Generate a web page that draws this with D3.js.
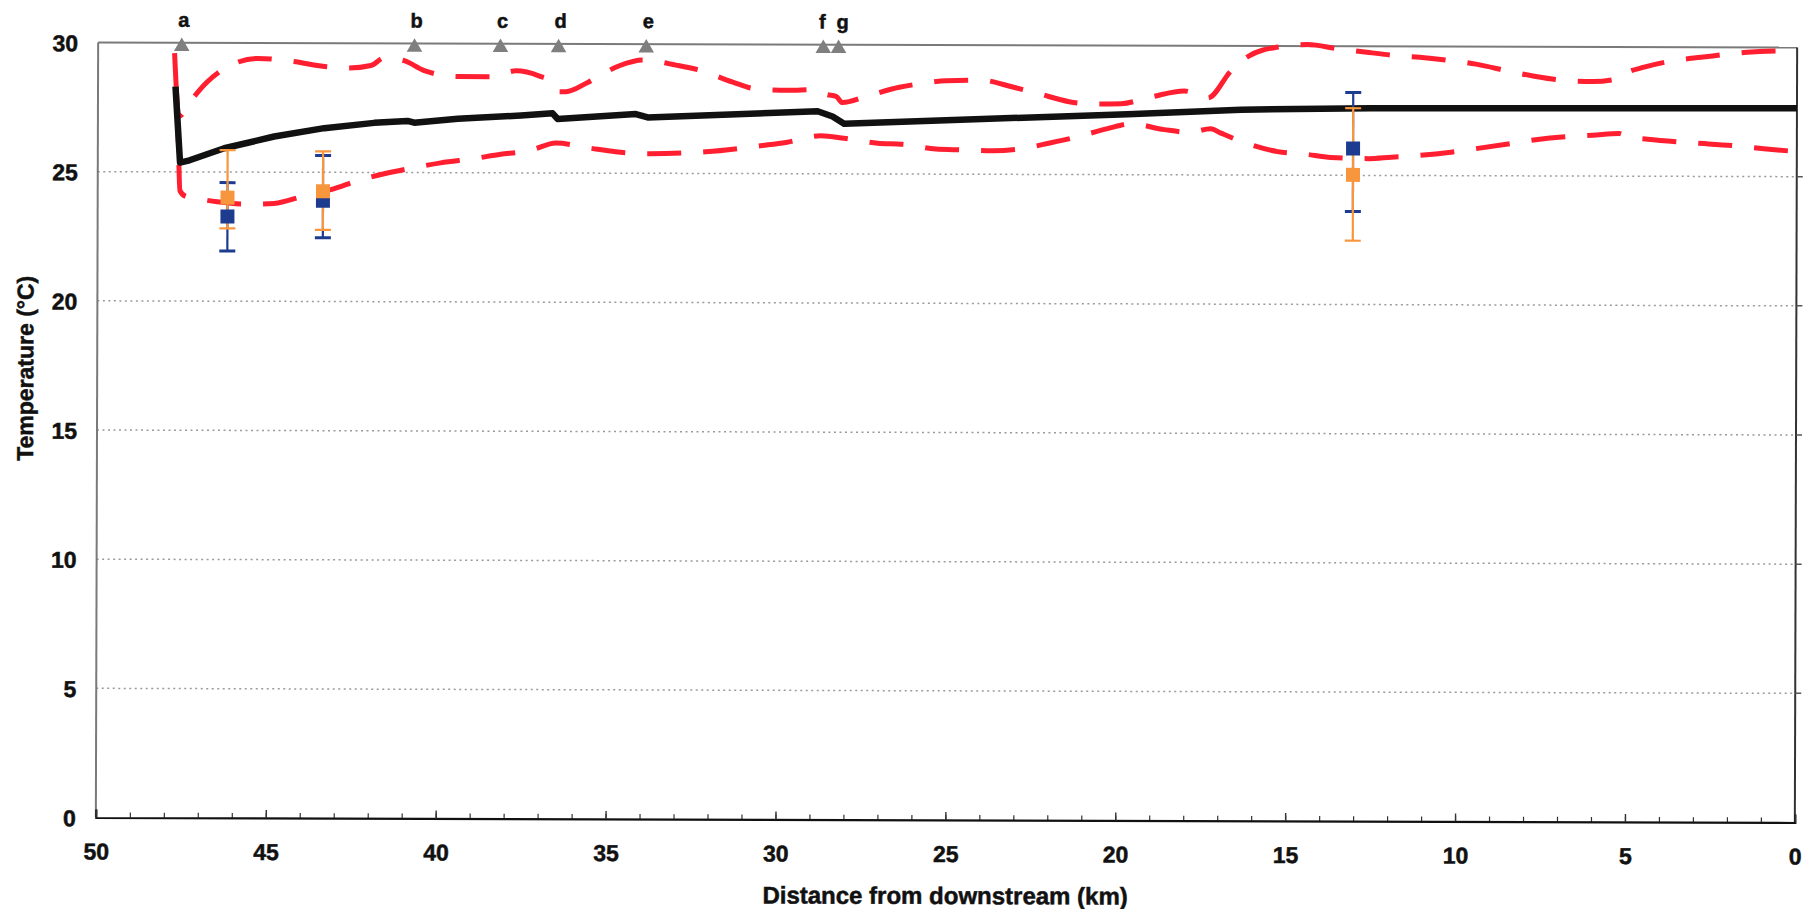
<!DOCTYPE html>
<html>
<head>
<meta charset="utf-8">
<script src="https://cdn.jsdelivr.net/npm/d3@7"></script>
<style>
  html, body { margin: 0; padding: 0; background: #fff; }
  svg { display: block; }
  text { font-family: "Liberation Sans", Arial, sans-serif; font-weight: bold; fill: #111; stroke: #111; stroke-width: 0.5px; }
</style>
</head>
<body>
<svg id="chart" width="1803" height="909"></svg>
<script>
// ---------------- DATA ----------------
// x tick labels (km from downstream) and y tick labels (°C)
const xTicksMajor = [50, 45, 40, 35, 30, 25, 20, 15, 10, 5, 0];
const xTicksMinor = d3.range(0, 51, 1);
const yTicks = [0, 5, 10, 15, 20, 25, 30];

// simulated mean temperature (km, °C)
const meanKm = [47.72, 47.58, 47.30, 46.28, 44.81, 43.34, 41.87, 40.89, 40.69, 39.41, 37.55, 36.62, 36.47, 34.17, 33.82, 28.82, 28.38, 28.04, 25.04, 19.70, 16.36, 12.54, 0];
const meanT  = [28.30, 25.36, 25.45, 25.92, 26.38, 26.71, 26.92, 27.00, 26.93, 27.09, 27.22, 27.31, 27.09, 27.29, 27.16, 27.42, 27.22, 26.94, 27.09, 27.34, 27.53, 27.60, 27.65];

// upper envelope (red dashed)
const upperKm = [47.70, 47.62, 47.21, 46.82, 45.99, 45.30, 44.32, 43.34, 42.65, 41.97, 41.57, 40.99, 40.40, 39.41, 38.43, 37.70, 37.01, 36.62, 36.42, 36.23, 35.59, 34.66, 33.97, 32.99, 32.30, 31.32, 30.64, 29.66, 28.97, 28.53, 28.28, 28.09, 27.40, 26.42, 25.73, 25.04, 24.01, 23.08, 22.35, 21.42, 20.68, 19.89, 19.01, 18.03, 17.34, 16.66, 16.17, 15.28, 14.40, 13.52, 12.60, 11.85, 11.11, 10.13, 9.45, 8.42, 7.73, 6.75, 6.01, 5.28, 5.08, 4.50, 3.47, 2.83, 1.80, 1.11, 0];
const upperT  = [28.30, 27.15, 27.85, 28.44, 29.20, 29.40, 29.30, 29.10, 29.04, 29.14, 29.44, 29.33, 28.95, 28.72, 28.72, 28.95, 28.75, 28.51, 28.15, 28.15, 28.51, 29.16, 29.38, 29.19, 29.00, 28.54, 28.28, 28.23, 28.26, 28.06, 28.00, 27.76, 28.00, 28.36, 28.51, 28.62, 28.64, 28.38, 28.14, 27.82, 27.73, 27.75, 28.01, 28.25, 27.98, 29.03, 29.58, 29.96, 30.06, 29.90, 29.76, 29.65, 29.58, 29.44, 29.32, 29.03, 28.86, 28.69, 28.66, 28.77, 28.96, 29.22, 29.51, 29.61, 29.77, 29.84, 29.87];

// lower envelope (red dashed)
const lowerKm = [47.75, 47.64, 47.58, 47.41, 47.26, 46.48, 45.59, 44.81, 43.93, 43.14, 42.26, 41.57, 40.69, 39.91, 38.93, 38.14, 37.55, 37.21, 36.52, 35.49, 34.76, 33.82, 32.11, 30.44, 29.75, 28.72, 28.04, 27.05, 26.32, 25.34, 24.60, 23.67, 22.94, 21.95, 21.27, 20.29, 19.60, 18.62, 17.88, 17.25, 16.95, 16.27, 15.28, 14.50, 13.71, 12.60, 11.94, 11.12, 10.18, 9.49, 8.38, 7.69, 6.71, 6.02, 5.23, 4.99, 4.39, 3.36, 2.73, 1.66, 0.97, 0];
const lowerT  = [29.60, 26.50, 24.27, 24.05, 24.01, 23.85, 23.76, 23.79, 24.08, 24.33, 24.72, 24.95, 25.19, 25.38, 25.55, 25.72, 25.81, 25.90, 26.16, 25.96, 25.83, 25.76, 25.84, 26.09, 26.21, 26.47, 26.38, 26.19, 26.15, 25.97, 25.94, 25.91, 25.97, 26.23, 26.43, 26.78, 26.97, 26.75, 26.65, 26.79, 26.62, 26.26, 25.91, 25.82, 25.69, 25.65, 25.71, 25.78, 25.91, 26.04, 26.26, 26.40, 26.53, 26.58, 26.65, 26.53, 26.43, 26.32, 26.27, 26.17, 26.08, 25.97];

// observations (blue) with error bars
const obsBlueKm   = [46.18, 43.37, 13.06];
const obsBlueT    = [23.28, 23.90, 26.04];
const obsBlueLow  = [21.94, 22.47, 23.60];
const obsBlueHigh = [24.59, 25.65, 28.21];

// observations (orange) with error bars
const obsOrangeKm   = [46.18, 43.37, 13.06];
const obsOrangeT    = [24.01, 24.27, 25.02];
const obsOrangeLow  = [22.82, 22.77, 22.47];
const obsOrangeHigh = [25.85, 25.81, 27.60];

// site markers
const siteLabels = ["a", "b", "c", "d", "e", "f", "g"];
const siteKm     = [47.54, 40.69, 38.16, 36.45, 33.87, 28.66, 28.21];
const siteT      = [29.85, 29.85, 29.85, 29.85, 29.85, 29.85, 29.85];

// ---------------- DRAW ----------------
const svg = d3.select("#chart");
const mLeft = 97, mRight = 1796, mTop = 45, mBottom = 820;

const x = d3.scaleLinear().domain([50, 0]).range([mLeft, mRight]);
const y = d3.scaleLinear().domain([0, 30]).range([mBottom, mTop]);

svg.append("rect").attr("width", 1803).attr("height", 909).attr("fill", "#fff");

const g = svg.append("g")
  .attr("transform", `rotate(0.17, ${(mLeft + mRight) / 2}, ${(mTop + mBottom) / 2})`);

// gridlines
g.append("g").selectAll("line")
  .data(yTicks.filter(t => t > 0 && t < 30))
  .join("line")
  .attr("x1", mLeft).attr("x2", mRight)
  .attr("y1", d => y(d)).attr("y2", d => y(d))
  .attr("stroke", "#9a9a9a").attr("stroke-width", 1.5)
  .attr("stroke-dasharray", "2,3.5");

// frame: top (gray), left (gray), right (dark)
g.append("line").attr("x1", mLeft).attr("x2", mRight).attr("y1", y(30)).attr("y2", y(30))
  .attr("stroke", "#7a7a7a").attr("stroke-width", 2);
g.append("line").attr("x1", mLeft).attr("x2", mLeft).attr("y1", y(30)).attr("y2", y(0))
  .attr("stroke", "#7a7a7a").attr("stroke-width", 2);
g.append("line").attr("x1", mRight).attr("x2", mRight).attr("y1", y(30)).attr("y2", y(0))
  .attr("stroke", "#333").attr("stroke-width", 2);

// right-side small ticks
g.append("g").selectAll("line")
  .data(yTicks.filter(t => t > 0 && t < 30))
  .join("line")
  .attr("x1", mRight).attr("x2", mRight + 6)
  .attr("y1", d => y(d)).attr("y2", d => y(d))
  .attr("stroke", "#555").attr("stroke-width", 1.5);

// x axis (ticks pointing up into the plot)
const xAxisMinor = d3.axisBottom(x).tickValues(xTicksMinor).tickSize(-5).tickFormat("");
const xAxisMajor = d3.axisBottom(x).tickValues(xTicksMajor).tickSize(-8).tickPadding(26)
  .tickFormat(d3.format("d"));
const gxMinor = g.append("g").attr("transform", `translate(0,${y(0)})`).call(xAxisMinor);
gxMinor.select(".domain").remove();
gxMinor.selectAll("line").attr("stroke", "#333").attr("stroke-width", 1.2);
const gx = g.append("g").attr("transform", `translate(0,${y(0)})`).call(xAxisMajor);
gx.select(".domain").attr("stroke", "#111").attr("stroke-width", 2.2);
gx.selectAll(".tick line").attr("stroke", "#333").attr("stroke-width", 1.4);
gx.selectAll(".tick text")
  .style("font-size", "23px").style("font-weight", "bold")
  .attr("fill", "#111").attr("dy", "0");
gx.selectAll(".tick text").attr("y", 42);

// y axis labels
const yAxis = d3.axisLeft(y).tickValues(yTicks).tickSize(0).tickPadding(20).tickFormat(d3.format("d"));
const gy = g.append("g").attr("transform", `translate(${mLeft},0)`).call(yAxis);
gy.select(".domain").remove();
gy.selectAll(".tick text")
  .style("font-size", "23px").style("font-weight", "bold")
  .attr("fill", "#111").attr("dy", "0.36em");

// envelopes
const lineGen = d3.line().x(d => x(d[0])).y(d => y(d[1])).curve(d3.curveMonotoneX);
const upperData = upperKm.map((k, i) => [k, upperT[i]]);
const lowerData = lowerKm.map((k, i) => [k, lowerT[i]]);
const meanData = meanKm.map((k, i) => [k, meanT[i]]);

[lowerData, upperData].forEach(dat => {
  g.append("path").datum(dat)
    .attr("d", lineGen)
    .attr("fill", "none")
    .attr("stroke", "#ff1f30")
    .attr("stroke-width", 5)
    .attr("stroke-dasharray", "34,22");
});

// mean line
g.append("path").datum(meanData)
  .attr("d", d3.line().x(d => x(d[0])).y(d => y(d[1])))
  .attr("fill", "none")
  .attr("stroke", "#111")
  .attr("stroke-width", 6.5)
  .attr("stroke-linejoin", "round");

// error bars: whiskers first (blue then orange), then markers (blue then orange)
const blueObs = obsBlueKm.map((k, i) => ({ k, t: obsBlueT[i], lo: obsBlueLow[i], hi: obsBlueHigh[i] }));
const orangeObs = obsOrangeKm.map((k, i) => ({ k, t: obsOrangeT[i], lo: obsOrangeLow[i], hi: obsOrangeHigh[i] }));

function drawWhiskers(data, color, capW, lineW, capLineW) {
  const grp = g.append("g");
  grp.selectAll("line.v").data(data).join("line").attr("class", "v")
    .attr("x1", d => x(d.k)).attr("x2", d => x(d.k))
    .attr("y1", d => y(d.lo)).attr("y2", d => y(d.hi))
    .attr("stroke", color).attr("stroke-width", lineW);
  grp.selectAll("line.lo").data(data).join("line").attr("class", "lo")
    .attr("x1", d => x(d.k) - capW / 2).attr("x2", d => x(d.k) + capW / 2)
    .attr("y1", d => y(d.lo)).attr("y2", d => y(d.lo))
    .attr("stroke", color).attr("stroke-width", capLineW);
  grp.selectAll("line.hi").data(data).join("line").attr("class", "hi")
    .attr("x1", d => x(d.k) - capW / 2).attr("x2", d => x(d.k) + capW / 2)
    .attr("y1", d => y(d.hi)).attr("y2", d => y(d.hi))
    .attr("stroke", color).attr("stroke-width", capLineW);
}
function drawMarkers(data, color) {
  g.append("g").selectAll("rect").data(data).join("rect")
    .attr("x", d => x(d.k) - 7).attr("y", d => y(d.t) - 7)
    .attr("width", 14).attr("height", 14)
    .attr("fill", color);
}
drawWhiskers(blueObs, "#1d3b8f", 16, 2.2, 3);
drawWhiskers(orangeObs, "#f7963c", 16, 2.2, 2.2);
drawMarkers(blueObs, "#1d3b8f");
drawMarkers(orangeObs, "#f7963c");

// site markers
const sites = siteLabels.map((s, i) => ({ s, k: siteKm[i], t: siteT[i] }));
g.append("g").selectAll("path").data(sites).join("path")
  .attr("d", d3.symbol(d3.symbolTriangle, 105))
  .attr("transform", d => `translate(${x(d.k)},${y(d.t)})`)
  .attr("fill", "#7f7f7f");
g.append("g").selectAll("text").data(sites).join("text")
  .attr("x", (d, i) => x(d.k) + (d.s === "f" ? -1 : d.s === "g" ? 4 : 2))
  .attr("y", y(30) - 16)
  .attr("text-anchor", "middle")
  .style("font-size", "20px")
  .text(d => d.s);

// axis titles
g.append("text")
  .attr("x", (mLeft + mRight) / 2)
  .attr("y", 904)
  .attr("text-anchor", "middle")
  .style("font-size", "24px")
  .text("Distance from downstream (km)");

g.append("text")
  .attr("transform", `translate(33,371) rotate(-90)`)
  .attr("text-anchor", "middle")
  .style("font-size", "23px")
  .text("Temperature (°C)");
</script>
</body>
</html>
